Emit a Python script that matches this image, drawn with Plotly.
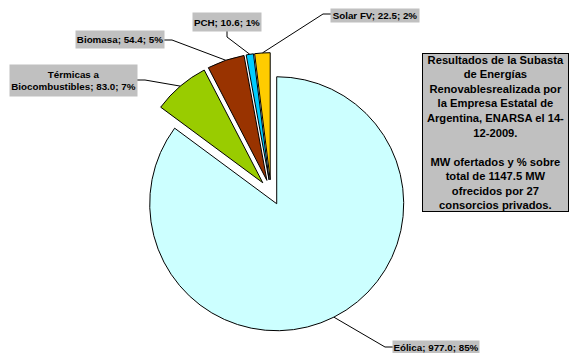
import math
import textwrap
import plotly.graph_objects as go

# Offered capacity (MW) by technology, clockwise from 12 o'clock
categories = ["Eólica", "Térmicas a Biocombustibles", "Biomasa", "PCH", "Solar FV"]
values = [977.0, 83.0, 54.4, 10.6, 22.5]
colors = ["#ccffff", "#99cc00", "#993300", "#00ccff", "#ffcc00"]

W, H = 571, 353
PULL = 0.10
CX, CY = 271.0, 192.4          # pie centre, px from top-left
R = 127.0                      # pie radius, px
HALF = R * (1 + PULL)          # half size of the pie domain

def fx(x):
    return x / W

def fy(y):
    return 1 - y / H

# label placement: elbow of leader line, end of leader line, box centre and size
label_layout = {
    "Eólica": dict(elbow=(385, 347), end=(393, 347), box=(436, 347.5, 86, 13)),
    "Térmicas a Biocombustibles": dict(elbow=(145, 80), end=(137, 80), box=(73.5, 80.5, 127, 31)),
    "Biomasa": dict(elbow=(172, 40), end=(164, 40), box=(120, 39.5, 88, 17)),
    "PCH": dict(elbow=(227, 37), end=(227, 31), box=(227, 22, 68, 18)),
    "Solar FV": dict(elbow=(323, 14), end=(331, 14), box=(375, 15.5, 88, 13)),
}

total = sum(values)

fig = go.Figure(go.Pie(
    labels=categories,
    values=values,
    sort=False,
    direction="clockwise",
    rotation=0,
    pull=[PULL] * len(values),
    marker=dict(colors=colors, line=dict(color="black", width=1)),
    textinfo="none",
    hoverinfo="label+value+percent",
    showlegend=False,
    domain=dict(x=[fx(CX - HALF), fx(CX + HALF)], y=[fy(CY + HALF), fy(CY - HALF)]),
))

shapes = []
annotations = []
cum = 0.0
for name, val in zip(categories, values):
    mid = (cum + val / 2) / total * 2 * math.pi
    cum += val
    dx, dy = math.sin(mid), -math.cos(mid)
    ax = CX + (R * PULL + R) * dx
    ay = CY + (R * PULL + R) * dy
    spec = label_layout[name]
    ex, ey = spec["elbow"]
    tx, ty = spec["end"]
    shapes.append(dict(
        type="path", xref="paper", yref="paper",
        path=f"M {fx(ax)} {fy(ay)} L {fx(ex)} {fy(ey)} L {fx(tx)} {fy(ty)}",
        line=dict(color="black", width=1),
    ))
    pct = round(val / total * 100)
    text = f"{name}; {val:.1f}; {pct}%"
    text = "<br>".join(textwrap.wrap(text, width=26))
    bx, by, bw, bh = spec["box"]
    annotations.append(dict(
        x=fx(bx), y=fy(by), xref="paper", yref="paper",
        xanchor="center", yanchor="middle",
        text=f"<b>{text}</b>", showarrow=False,
        bgcolor="#c0c0c0", borderpad=0, width=bw, height=bh,
        font=dict(family="Liberation Sans, Arial", size=9.8, color="black"),
        align="center", valign="middle",
    ))

note = (
    "Resultados de la Subasta<br>de Energías<br>Renovablesrealizada por<br>"
    "la Empresa Estatal de<br>Argentina, ENARSA el 14-<br>12-2009.<br><br>"
    f"MW ofertados y % sobre<br>total de {total:.1f} MW<br>ofrecidos por 27<br>"
    "consorcios privados."
)
annotations.append(dict(
    x=fx(495.5), y=fy(132.5), xref="paper", yref="paper",
    xanchor="center", yanchor="middle",
    text=f"<b>{note}</b>", showarrow=False,
    bgcolor="#c0c0c0", bordercolor="black", borderwidth=1, borderpad=0,
    width=145, height=157,
    font=dict(family="Liberation Sans, Arial", size=11.2, color="black"),
    align="center", valign="middle",
))

fig.update_layout(
    width=W, height=H,
    margin=dict(l=0, r=0, t=0, b=0),
    paper_bgcolor="white", plot_bgcolor="white",
    shapes=shapes, annotations=annotations,
)

fig.write_html("out.html")
